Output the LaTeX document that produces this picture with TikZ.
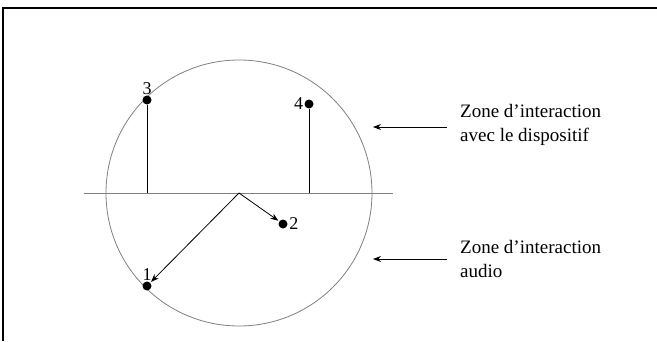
\documentclass[tikz,border=0pt]{standalone}
\usepackage{fontspec}
\setmainfont{Liberation Serif}
\usetikzlibrary{positioning,arrows.meta}
\tikzstyle{point}=[circle,fill=black,inner sep=0pt,minimum size=9pt]
\tikzstyle{num}=[inner sep=0.5pt,font=\fontsize{18}{20}\selectfont]
\tikzstyle{zone}=[align=left,anchor=west,inner sep=0pt,font=\fontsize{19}{24}\selectfont]
\tikzstyle{pointer}=[-{Stealth[length=8pt,width=6pt]},line width=0.8pt]

\begin{document}
\begin{tikzpicture}[x=1pt,y=1pt]
  \useasboundingbox (0,0) rectangle (657,341);
  \draw[line width=1.6pt] (3,0) -- (3,333) -- (657,333);
  % cercle et axe
  \coordinate (O) at (239,148);
  \draw[gray,line width=0.8pt] (O) circle (133);
  \coordinate (hl) at (84,148);
  \coordinate (hr) at (393,148);
  \draw[gray,line width=0.8pt] (hl) -- (hr);
  % points
  \node(p1)[point] at (147,55) {};
  \node(p2)[point] at (283,117) {};
  \node(p3)[point] at (147,241) {};
  \node(p4)[point] at (309,237) {};
  \coordinate (f3) at (147,148);
  \coordinate (f4) at (309,148);
  \node(n1)[num,above=0pt of p1]{1};
  \node(n2)[num,right=1pt of p2]{2};
  \node(n3)[num,above=0pt of p3]{3};
  \node(n4)[num,left=0.5pt of p4]{4};
  \path[draw,line width=0.8pt]
    (p3) edge (f3)
    (p4) edge (f4);
  \path
    (O) edge[pointer,shorten >=1pt] (p1)
    (O) edge[pointer,shorten >=1pt] (p2);
  % zones
  \node(z1)[zone] at (460,216) {Zone d’interaction\\avec le dispositif};
  \node(z2)[zone] at (460,82) {Zone d’interaction\\audio};
  \coordinate (s1) at (447,214);
  \coordinate (a1) at (373,214);
  \coordinate (s2) at (447,82);
  \coordinate (a2) at (373,82);
  \path
    (s1) edge[pointer] (a1)
    (s2) edge[pointer] (a2);
\end{tikzpicture}
\end{document}
